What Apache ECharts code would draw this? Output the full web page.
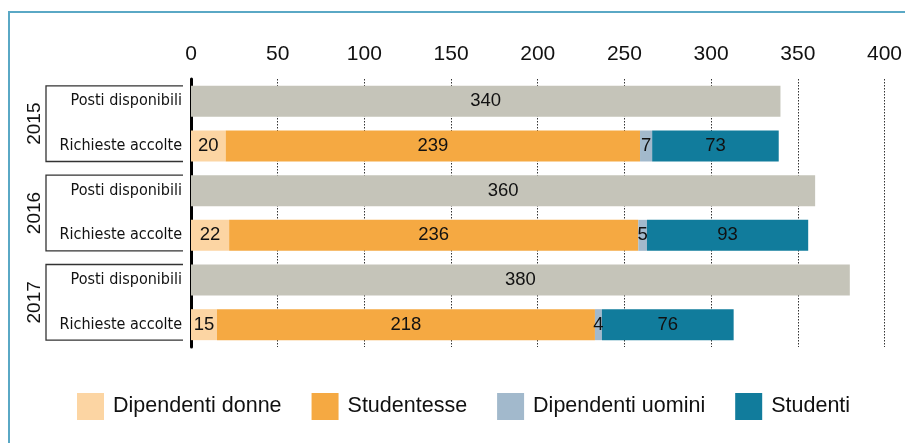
<!DOCTYPE html>
<html>
<head>
<meta charset="utf-8">
<script src="https://cdn.jsdelivr.net/npm/echarts@6/dist/echarts.min.js"></script>
<style>
  html, body { margin: 0; padding: 0; background: #fff; overflow: hidden; }
  #chart { width: 905px; height: 443px; }
</style>
</head>
<body>
<div id="chart"></div>
<script>
// Rows of the chart (top to bottom) and their year groups
const rowLabels = ['Posti disponibili', 'Richieste accolte', 'Posti disponibili', 'Richieste accolte', 'Posti disponibili', 'Richieste accolte'];
const years = ['2015', '2016', '2017'];

// Available places per year
const postiDisponibili = [340, 360, 380];
// Accepted requests per year, split by group
const dipendentiDonne = [20, 22, 15];
const studentesse = [239, 236, 218];
const dipendentiUomini = [7, 5, 4];
const studenti = [73, 93, 76];

const xTicks = [0, 50, 100, 150, 200, 250, 300, 350, 400];

// Place yearly values on the "Posti" rows or the "Richieste" rows
const onPosti = arr => arr.flatMap(v => [v, '-']);
const onRichieste = arr => arr.flatMap(v => ['-', v]);

const colors = {
  posti: '#c5c4b9',
  donne: '#fcd5a3',
  studentesse: '#f5a942',
  uomini: '#a2b9cc',
  studenti: '#117c9c'
};

const BAR_W = 31;
const labelFont = { fontFamily: 'Liberation Sans, Arial, sans-serif', fontSize: 18.5, color: '#111' };

function barSeries(name, data, color) {
  return {
    name: name,
    type: 'bar',
    stack: 'total',
    barWidth: BAR_W,
    data: data,
    itemStyle: { color: color },
    label: Object.assign({ show: true, position: 'inside' }, labelFont),
    emphasis: { disabled: true }
  };
}

const chart = echarts.init(document.getElementById('chart'), null, { renderer: 'canvas' });

chart.setOption({
  animation: false,
  grid: { left: 191, right: 18, top: 79, bottom: 96 },
  xAxis: {
    type: 'value',
    position: 'top',
    min: xTicks[0],
    max: xTicks[xTicks.length - 1],
    interval: 50,
    axisLine: { show: false },
    axisTick: { show: false },
    axisLabel: { fontFamily: 'Liberation Sans, Arial, sans-serif', fontSize: 21, color: '#111', margin: 14 },
    splitLine: { show: true, lineStyle: { type: [1.5, 1.5], color: '#333', width: 1 } }
  },
  yAxis: {
    type: 'category',
    inverse: true,
    data: rowLabels,
    axisLine: { show: true, lineStyle: { color: '#000', width: 3 } },
    axisTick: { show: false },
    axisLabel: {
      fontFamily: 'DejaVu Sans Condensed, Liberation Sans Narrow, Arial Narrow, sans-serif',
      fontSize: 16,
      color: '#111',
      margin: 9
    }
  },
  legend: {
    left: 77,
    top: 393,
    padding: 0,
    icon: 'rect',
    itemWidth: 27,
    itemHeight: 27,
    itemGap: 30,
    selectedMode: false,
    textStyle: { fontFamily: 'Liberation Sans, Arial, sans-serif', fontSize: 21.5, color: '#111', padding: [0, 0, 0, 4] },
    data: ['Dipendenti donne', 'Studentesse', 'Dipendenti uomini', 'Studenti']
  },
  series: [
    barSeries('Posti disponibili', onPosti(postiDisponibili), colors.posti),
    barSeries('Dipendenti donne', onRichieste(dipendentiDonne), colors.donne),
    barSeries('Studentesse', onRichieste(studentesse), colors.studentesse),
    barSeries('Dipendenti uomini', onRichieste(dipendentiUomini), colors.uomini),
    barSeries('Studenti', onRichieste(studenti), colors.studenti)
  ]
});

// Year brackets and frame, positioned from the category axis
function drawDecorations() {
  const elements = [];
  const axisX = chart.convertToPixel({ gridIndex: 0 }, [0, 0])[0];
  const right = axisX - 8;
  const left = 46;
  years.forEach((yr, i) => {
    const yTop = chart.convertToPixel({ gridIndex: 0 }, [0, 2 * i])[1] - BAR_W / 2;
    const yBot = chart.convertToPixel({ gridIndex: 0 }, [0, 2 * i + 1])[1] + BAR_W / 2;
    elements.push({
      type: 'polyline',
      silent: true,
      shape: { points: [[right, yTop], [left, yTop], [left, yBot], [right, yBot]] },
      style: { stroke: '#333', lineWidth: 1.3, fill: null }
    });
    elements.push({
      type: 'text',
      silent: true,
      x: 35,
      y: (yTop + yBot) / 2,
      rotation: Math.PI / 2,
      style: {
        text: yr,
        fontFamily: 'Liberation Sans, Arial, sans-serif',
        fontSize: 19,
        fill: '#111',
        align: 'center',
        verticalAlign: 'middle'
      }
    });
  });
  elements.push({
    type: 'rect',
    silent: true,
    z: -1,
    shape: { x: 9, y: 12, width: 1000, height: 600 },
    style: { stroke: '#5aa8c5', lineWidth: 2, fill: null }
  });
  chart.setOption({ graphic: elements });
}
drawDecorations();
</script>
</body>
</html>
